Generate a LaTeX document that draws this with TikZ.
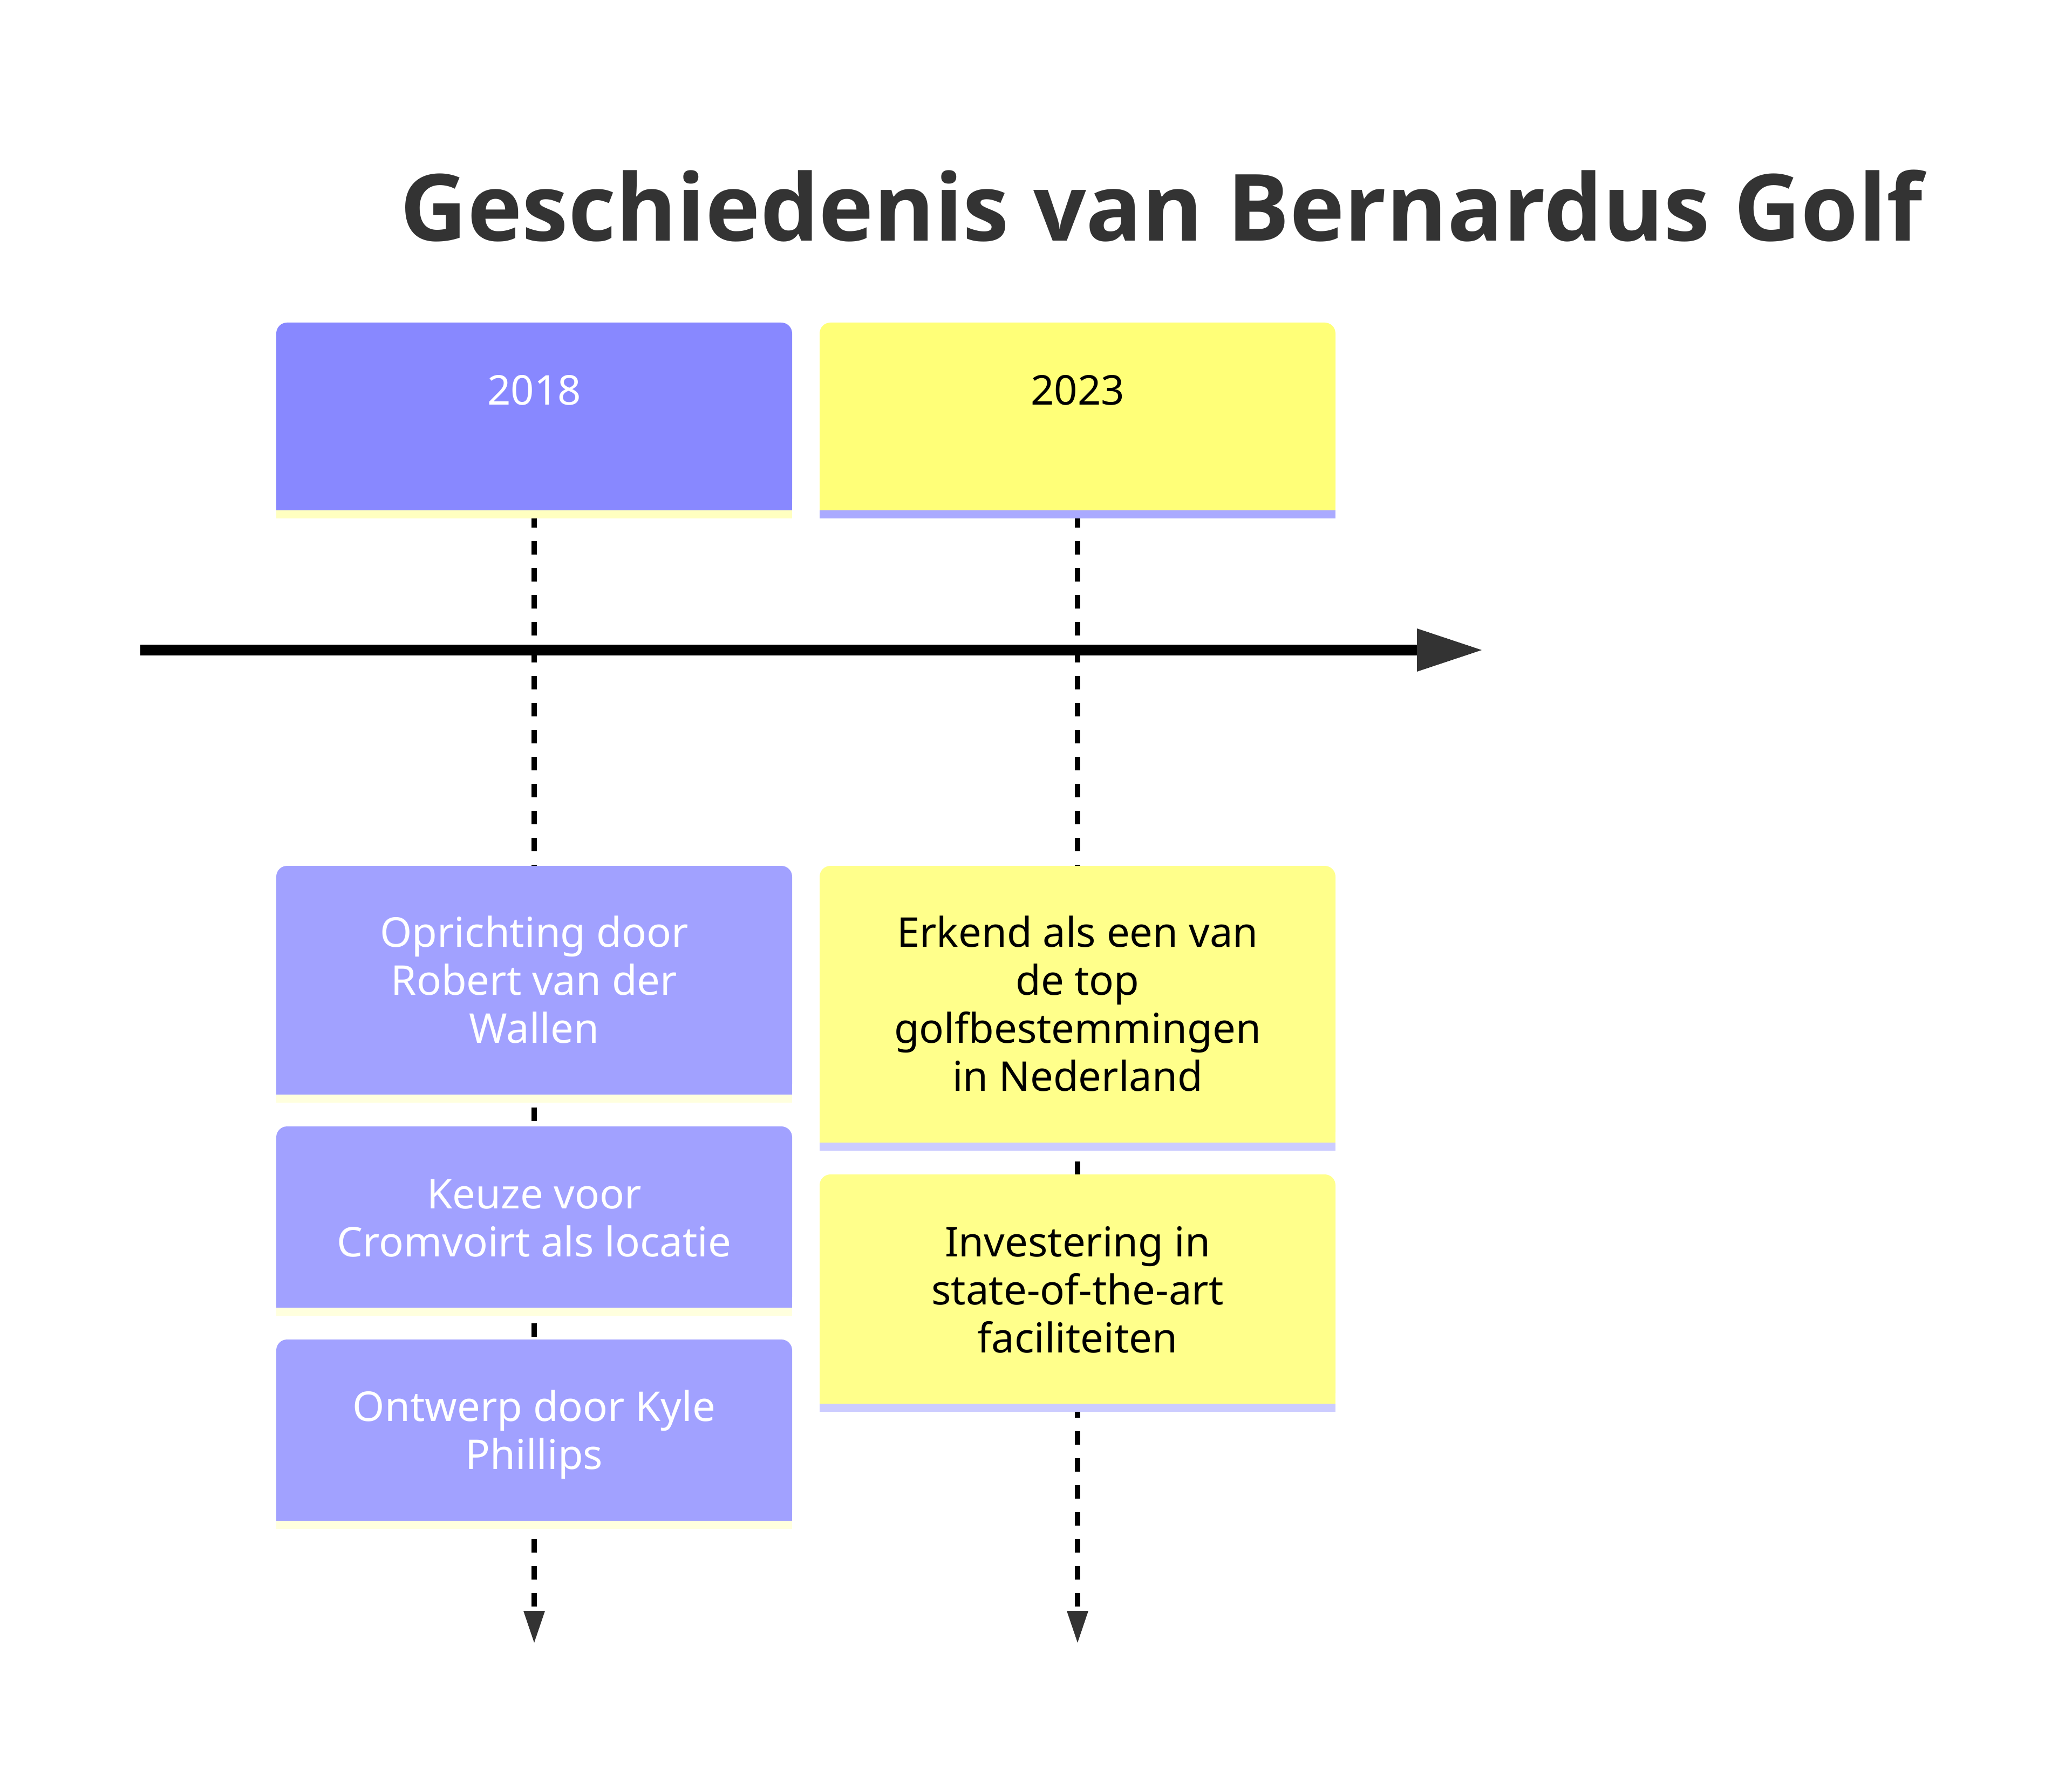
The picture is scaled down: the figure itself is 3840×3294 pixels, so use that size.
\documentclass[tikz,border=0pt]{standalone}
\usepackage{fontspec}
\setmainfont{Noto Sans}
\newfontfamily\titlefont{Open Sans}
\usetikzlibrary{arrows.meta}
\definecolor{hdrA}{HTML}{8888FF}
\definecolor{edgeA}{HTML}{FFFFC0}
\definecolor{taskA}{HTML}{A1A1FF}
\definecolor{tedgeA}{HTML}{FFFFDE}
\definecolor{hdrB}{HTML}{FFFF78}
\definecolor{edgeB}{HTML}{AAAAFF}
\definecolor{taskB}{HTML}{FFFF8B}
\definecolor{tedgeB}{HTML}{CCCCFF}
\definecolor{ink}{HTML}{333333}
\newcommand\mlines[1]{\vtop{\halign{\hfil##\hfil\cr#1\crcr}}}
\newcommand\tlcard[7]{%
  \fill[#6, rounded corners=5pt] (#2,#3) rectangle (#4,#5);
  \fill[#6] (#2,#3+40) rectangle (#4,#5);
  \fill[#7] (#2,#5) rectangle (#4,#5+15);
  \coordinate (#1) at ({(#2+#4)/2},{(#3+#5)/2});
}
\tikzset{
  body/.style={font=\fontsize{19pt}{22.25pt}\selectfont, inner sep=0pt, anchor=base},
  dashline/.style={line width=2.5pt, dash pattern=on 6.25pt off 6.25pt,
    -{Triangle[length=14.75pt,width=10pt,line width=0pt,color=ink]}},
  axisline/.style={line width=5pt,
    -{Triangle[length=30pt,width=20pt,line width=0pt,color=ink]}},
}
\begin{document}
\begin{tikzpicture}[x=0.25pt,y=-0.25pt]
\useasboundingbox[fill=white] (0,0) rectangle (3840,3294);
% title
\node[font=\titlefont\bfseries\fontsize{43pt}{52pt}\selectfont, text=ink, anchor=base west, inner sep=0pt] (title) at (741,447) {Geschiedenis van Bernardus Golf};
% dashed vertical connectors
\coordinate (l1top) at (990,953);
\coordinate (l1end) at (990,3045);
\coordinate (l2top) at (1997,953);
\coordinate (l2end) at (1997,3045);
\draw[dashline] (l1top) -- (l1end);
\draw[dashline] (l2top) -- (l2end);
% axis
\coordinate (ax0) at (260,1205);
\coordinate (ax1) at (2746,1205);
\draw[axisline] (ax0) -- (ax1);
% 2018 column
\tlcard{h2018}{512}{598}{1468}{946}{hdrA}{edgeA}
\tlcard{t11}{512}{1605}{1468}{2029}{taskA}{tedgeA}
\tlcard{t12}{512}{2088}{1468}{2424}{taskA}{tedgeA}
\tlcard{t13}{512}{2483}{1468}{2819}{taskA}{tedgeA}
% 2023 column
\tlcard{h2023}{1519}{598}{2475}{946}{hdrB}{edgeB}
\tlcard{t21}{1519}{1605}{2475}{2118}{taskB}{tedgeB}
\tlcard{t22}{1519}{2177}{2475}{2602}{taskB}{tedgeB}
% texts
\node[body, text=white] (y2018) at (990,750) {2018};
\node[body, text=black] (y2023) at (1997,750) {2023};
\node[body, text=white] (x11) at (990,1755) {\mlines{Oprichting door\cr Robert van der\cr Wallen}};
\node[body, text=white] (x12) at (990,2240) {\mlines{Keuze voor\cr Cromvoirt als locatie}};
\node[body, text=white] (x13) at (990,2634) {\mlines{Ontwerp door Kyle\cr Phillips}};
\node[body, text=black] (x21) at (1997,1755) {\mlines{Erkend als een van\cr de top\cr golfbestemmingen\cr in Nederland}};
\node[body, text=black] (x22) at (1997,2329) {\mlines{Investering in\cr state-of-the-art\cr faciliteiten}};
\end{tikzpicture}
\end{document}
